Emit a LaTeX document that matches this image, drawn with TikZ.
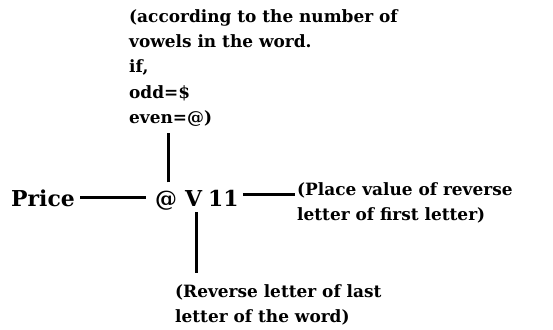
\documentclass[tikz,border=0pt]{standalone}
\usepackage{fontspec}
\setmainfont{DejaVu Serif}

\tikzset{
  note/.style={anchor=north west, align=left, inner sep=0pt,
    font=\fontsize{17}{25.5}\selectfont\bfseries},
  big/.style={anchor=base west, inner sep=0pt,
    font=\fontsize{22}{26}\selectfont\bfseries},
  link/.style={line width=3bp}
}

\begin{document}
\begin{tikzpicture}[x=1bp, y=-1bp]
\useasboundingbox (0,0) rectangle (553,329);

% --- Rule above the code ---
\node[note] (vowel) at (129,9) {(according to the number of\\vowels in the word.\\if,\\odd=\$\\even=@)};

% --- Word and its code ---
\node[big] (word) at (11,206) {Price};
\node[big] (sym) at (155,206) {@};
\node[big] (vee) at (185,206) {V};
\node[big] (num) at (208,206) {11};

% --- Notes right and below ---
\node[note] (place) at (297,182) {(Place value of reverse\\letter of first letter)};
\node[note] (rev) at (175,284) {(Reverse letter of last\\letter of the word)};

% --- Connectors ---
\draw[link] ([xshift=5bp]word.east) -- ([xshift=-9bp]sym.west |- word.east);
\draw[link, shorten >=2bp] ([xshift=4bp, yshift=3bp]num.east) -- ([yshift=3bp]num.east -| place.west);
\draw[link, shorten <=8bp, shorten >=6bp] ([xshift=2bp]sym.north) -- ([xshift=2bp]sym.north |- vowel.south);
\draw[link, shorten <=6bp, shorten >=11bp] ([xshift=3bp]vee.south) -- ([xshift=3bp]vee.south |- rev.north);

\end{tikzpicture}
\end{document}
